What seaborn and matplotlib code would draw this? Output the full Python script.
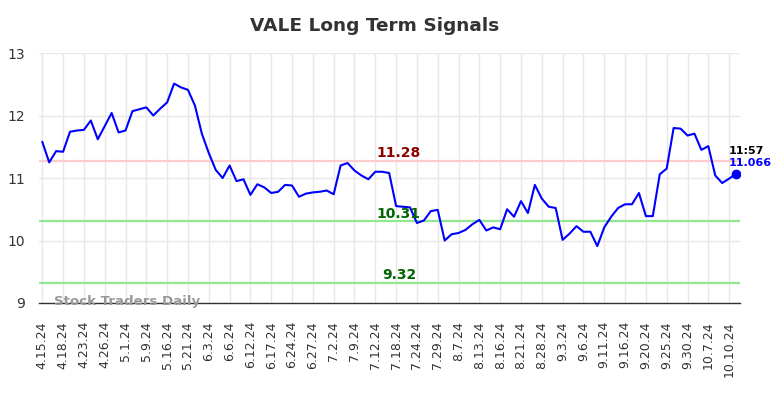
import matplotlib
matplotlib.use("Agg")
import matplotlib.pyplot as plt
import seaborn as sns
import pandas as pd
import numpy as np

# ---- data ----
prices = [11.58, 11.25, 11.43, 11.42, 11.74, 11.76, 11.77, 11.92, 11.62, 11.83,
          12.04, 11.73, 11.76, 12.07, 12.10, 12.13, 12.00, 12.11, 12.21, 12.51,
          12.45, 12.41, 12.16, 11.71, 11.40, 11.13, 11.00, 11.20, 10.95, 10.98,
          10.73, 10.90, 10.85, 10.76, 10.78, 10.89, 10.88, 10.70, 10.75, 10.77,
          10.78, 10.80, 10.74, 11.20, 11.24, 11.12, 11.04, 10.98, 11.10, 11.10,
          11.08, 10.55, 10.54, 10.53, 10.28, 10.32, 10.47, 10.49, 10.00, 10.10,
          10.12, 10.17, 10.26, 10.33, 10.16, 10.21, 10.18, 10.50, 10.38, 10.63,
          10.44, 10.89, 10.67, 10.54, 10.52, 10.01, 10.11, 10.23, 10.14, 10.14,
          9.91, 10.21, 10.38, 10.52, 10.58, 10.58, 10.76, 10.39, 10.39, 11.06,
          11.15, 11.80, 11.79, 11.68, 11.71, 11.45, 11.51, 11.04, 10.92, 10.99,
          11.066]
tick_labels = ["4.15.24", "4.18.24", "4.23.24", "4.26.24", "5.1.24", "5.9.24",
               "5.16.24", "5.21.24", "6.3.24", "6.6.24", "6.12.24", "6.17.24",
               "6.24.24", "6.27.24", "7.2.24", "7.9.24", "7.12.24", "7.18.24",
               "7.24.24", "7.29.24", "8.7.24", "8.13.24", "8.16.24", "8.21.24",
               "8.28.24", "9.3.24", "9.6.24", "9.11.24", "9.16.24", "9.20.24",
               "9.25.24", "9.30.24", "10.7.24", "10.10.24"]
tick_step = 3
signal_levels = [11.28, 10.31, 9.32]
signal_labels = ["11.28", "10.31", "9.32"]
last_time = "11:57"
last_value_label = "11.066"
title = "VALE Long Term Signals"
watermark = "Stock Traders Daily"

# ---- plot ----
sns.set_style("whitegrid", {"grid.color": "#e8e8e8", "axes.edgecolor": "#333333"})
plt.rcParams['font.family'] = ['DejaVu Sans']

df = pd.DataFrame({"idx": np.arange(len(prices)), "price": prices})

fig = plt.figure(figsize=(7.84, 3.98), dpi=100)
ax = fig.add_axes([0.0501, 0.2387, 0.8939, 0.6281])

line_colors = ["#ffcccc", "#90e890", "#90e890"]
text_colors = ["#8b0000", "#006400", "#006400"]
for lvl, lab, lc, tc in zip(signal_levels, signal_labels, line_colors, text_colors):
    ax.axhline(lvl, color=lc, lw=1.6, zorder=1)
    ax.text(51.4, lvl + 0.01, lab, color=tc, fontsize=10, fontweight="bold",
            ha="center", va="bottom", zorder=3)

sns.lineplot(data=df, x="idx", y="price", ax=ax, color="#0000ff", lw=1.5, zorder=2)
ax.plot(df["idx"].iloc[-1], df["price"].iloc[-1], "o", color="#0000ff", ms=6, zorder=4)

ax.text(df["idx"].iloc[-1] - 1.1, df["price"].iloc[-1] + 0.37, last_time, color="black",
        fontsize=8, fontweight="bold", ha="left", va="center")
ax.text(df["idx"].iloc[-1] - 1.1, df["price"].iloc[-1] + 0.17, last_value_label, color="#0000ff",
        fontsize=8, fontweight="bold", ha="left", va="center")

ax.text(1.7, 9.02, watermark, color="#999999", fontsize=9.6, fontweight="bold",
        ha="left", va="center", zorder=5)

ax.set_xlim(-0.43, 100.58)
ax.set_ylim(9, 13)
ticks = np.arange(len(tick_labels)) * tick_step
ax.set_xticks(ticks)
ax.set_xticklabels(tick_labels, rotation=90, fontsize=9, color="#333333")
ax.set_yticks([9, 10, 11, 12, 13])
ax.set_yticklabels(["9", "10", "11", "12", "13"], fontsize=10, color="#333333")
ax.tick_params(axis="x", length=0, pad=13)
ax.tick_params(axis="y", length=0, pad=10)
ax.set_xlabel("")
ax.set_ylabel("")
for s in ["left", "right", "top"]:
    ax.spines[s].set_visible(False)
ax.spines["bottom"].set_color("#333333")
ax.spines["bottom"].set_linewidth(1)
ax.grid(True, color="#e8e8e8", lw=1)

fig.suptitle(title, x=0.478, y=0.957, fontsize=13.3, fontweight="bold", color="#333333")

fig.savefig("out.png", dpi=100)
